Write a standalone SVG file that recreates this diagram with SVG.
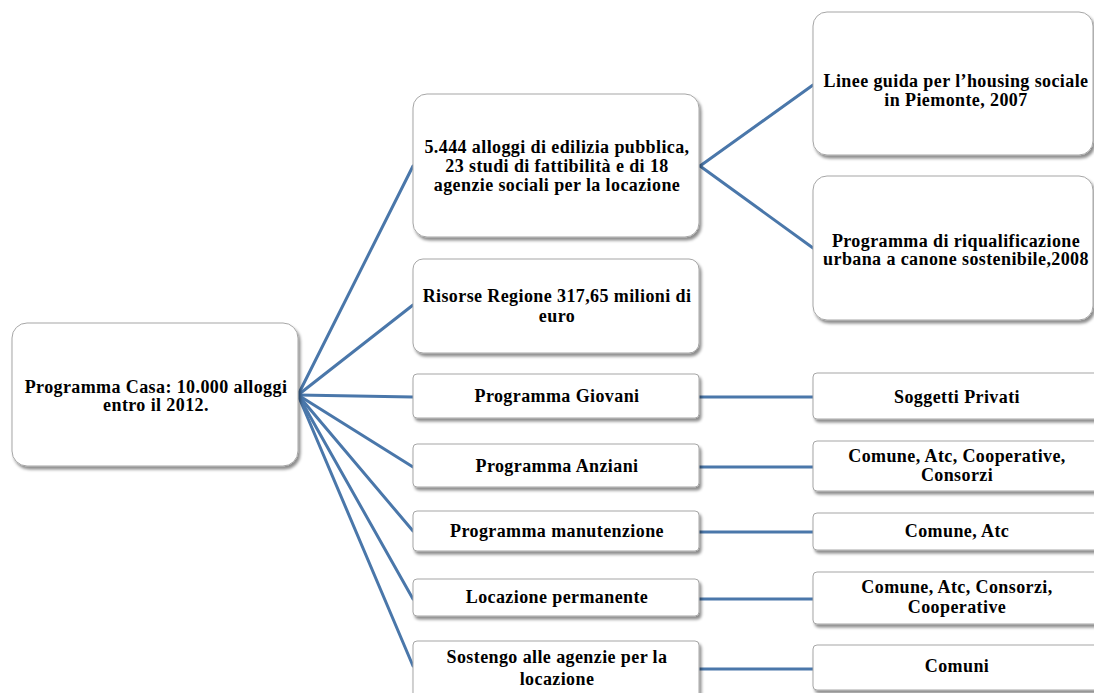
<svg xmlns="http://www.w3.org/2000/svg" width="1094" height="693" viewBox="0 0 1094 693">
<defs>
<filter id="sh" x="-10%" y="-10%" width="130%" height="140%">
<feDropShadow dx="2" dy="3" stdDeviation="1.5" flood-color="#000" flood-opacity="0.45"/>
</filter>
<style>
.box{fill:#fff;stroke:#a6a6a6;stroke-width:1;filter:url(#sh)}
.t{font-family:"Liberation Serif","Times New Roman",serif;font-weight:bold;font-size:18px;fill:#000;text-anchor:middle;letter-spacing:0.4px}
.c{stroke:#4a77aa;stroke-width:3;fill:none;stroke-linecap:round}
</style>
</defs>
<rect width="1094" height="693" fill="#fff"/>
<g id="connectors">
<line class="c" x1="298" y1="395" x2="413" y2="166"/>
<line class="c" x1="298" y1="395" x2="413" y2="305"/>
<line class="c" x1="298" y1="395" x2="413" y2="397"/>
<line class="c" x1="298" y1="395" x2="413" y2="467"/>
<line class="c" x1="298" y1="395" x2="413" y2="531"/>
<line class="c" x1="298" y1="395" x2="413" y2="599"/>
<line class="c" x1="298" y1="395" x2="413" y2="666"/>
<line class="c" x1="700" y1="166" x2="813" y2="85"/>
<line class="c" x1="700" y1="166" x2="813" y2="248"/>
<line class="c" x1="699" y1="397" x2="813" y2="397"/>
<line class="c" x1="699" y1="467" x2="813" y2="467"/>
<line class="c" x1="699" y1="532" x2="813" y2="532"/>
<line class="c" x1="699" y1="599" x2="813" y2="599"/>
<line class="c" x1="699" y1="669" x2="813" y2="669"/>
</g>
<g id="root">
<rect class="box" x="12" y="323" width="286" height="143" rx="15"/>
<text class="t" x="156" y="393">Programma Casa: 10.000 alloggi</text>
<text class="t" x="156" y="411">entro il 2012.</text>
</g>
<g id="n-alloggi">
<rect class="box" x="413" y="94" width="286" height="143" rx="14"/>
<text class="t" x="557" y="153">5.444 alloggi di edilizia pubblica,</text>
<text class="t" x="557" y="172">23 studi di fattibilità e di 18</text>
<text class="t" x="557" y="191">agenzie sociali per la locazione</text>
</g>
<g id="n-risorse">
<rect class="box" x="413" y="259" width="286" height="94" rx="10"/>
<text class="t" x="557" y="302">Risorse Regione 317,65 milioni di</text>
<text class="t" x="557" y="322">euro</text>
</g>
<g id="n-linee">
<rect class="box" x="813" y="12" width="280" height="143" rx="14"/>
<text class="t" x="956" y="87">Linee guida per l’housing sociale</text>
<text class="t" x="956" y="106">in Piemonte, 2007</text>
</g>
<g id="n-riqual">
<rect class="box" x="813" y="176" width="280" height="144" rx="14"/>
<text class="t" x="956" y="247">Programma di riqualificazione</text>
<text class="t" x="956" y="265">urbana a canone sostenibile,2008</text>
</g>
<g id="n-giovani">
<rect class="box" x="413" y="374" width="286" height="44" rx="4"/>
<text class="t" x="557" y="402">Programma Giovani</text>
</g>
<g id="n-privati">
<rect class="box" x="813" y="373" width="290" height="46" rx="4"/>
<text class="t" x="957" y="403">Soggetti Privati</text>
</g>
<g id="n-anziani">
<rect class="box" x="413" y="444" width="286" height="43" rx="4"/>
<text class="t" x="557" y="472">Programma Anziani</text>
</g>
<g id="n-coop">
<rect class="box" x="813" y="441" width="290" height="50" rx="4"/>
<text class="t" x="957" y="462">Comune, Atc, Cooperative,</text>
<text class="t" x="957" y="481">Consorzi</text>
</g>
<g id="n-manut">
<rect class="box" x="413" y="511" width="286" height="40" rx="4"/>
<text class="t" x="557" y="537">Programma manutenzione</text>
</g>
<g id="n-comatc">
<rect class="box" x="813" y="513" width="290" height="37" rx="4"/>
<text class="t" x="957" y="537">Comune, Atc</text>
</g>
<g id="n-locaz">
<rect class="box" x="413" y="579" width="286" height="37" rx="4"/>
<text class="t" x="557" y="603">Locazione permanente</text>
</g>
<g id="n-consorzi">
<rect class="box" x="813" y="572" width="290" height="52" rx="4"/>
<text class="t" x="957" y="593">Comune, Atc, Consorzi,</text>
<text class="t" x="957" y="613">Cooperative</text>
</g>
<g id="n-sostegno">
<rect class="box" x="413" y="641" width="286" height="60" rx="4"/>
<text class="t" x="557" y="663">Sostengo alle agenzie per la</text>
<text class="t" x="557" y="685">locazione</text>
</g>
<g id="n-comuni">
<rect class="box" x="813" y="645" width="290" height="45" rx="4"/>
<text class="t" x="957" y="672">Comuni</text>
</g>
</svg>
